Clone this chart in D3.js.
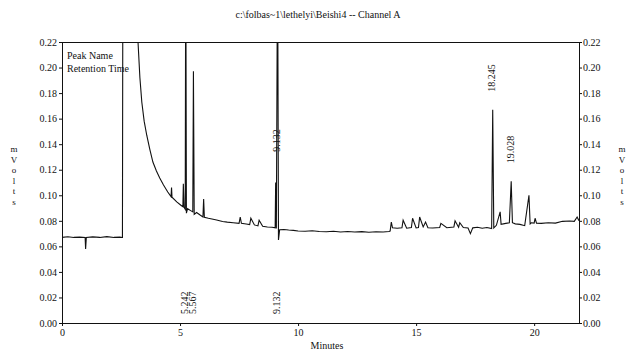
<!DOCTYPE html>
<html>
<head>
<meta charset="utf-8">
<script src="https://cdn.jsdelivr.net/npm/d3@7"></script>
<style>
  body { margin: 0; background: #fff; }
  svg { display: block; }
  text { font-family: 'Liberation Serif', 'Times New Roman', serif; fill: #111; }
</style>
</head>
<body>
<svg id="chart" width="627" height="350"></svg>
<script>
// chart text
const TITLE = 'c:\\folbas~1\\lethelyi\\Beishi4 -- Channel A';
const X_LABEL = 'Minutes';
const Y_LABEL = ['m', 'V', 'o', 'l', 't', 's'];
const LEGEND = ['Peak Name', 'Retention Time'];

// axis ticks
const xTicks = [0, 5, 10, 15, 20];
const yTicks = [0, 0.02, 0.04, 0.06, 0.08, 0.10, 0.12, 0.14, 0.16, 0.18, 0.20, 0.22];

// trace, minutes / volts (off-scale parts set above 0.22)
const traceTime = [
  0, 0.25, 0.5, 0.75, 0.98, 1.0, 1.03, 1.3, 1.6, 1.9, 2.2, 2.45, 2.56,
  2.58, 3.1, 3.22, 3.3, 3.38, 3.48, 3.59, 3.72, 3.85, 4.0, 4.14, 4.3, 4.48,
  4.62, 4.64, 4.66, 4.86, 5.05, 5.12, 5.14, 5.17, 5.22, 5.242, 5.27, 5.32,
  5.45, 5.54, 5.567, 5.6, 5.7, 5.85, 5.97, 6.0, 6.03, 6.2, 6.55, 6.8, 7.0,
  7.25, 7.5, 7.55, 7.6, 7.8, 7.95, 8.0, 8.15, 8.3, 8.35, 8.5, 8.7, 8.9,
  9.03, 9.05, 9.08, 9.132, 9.17, 9.22, 9.4, 9.6, 9.8, 10.0, 10.3, 10.6, 10.9,
  11.2, 11.5, 11.8, 12.1, 12.4, 12.7, 13.0, 13.3, 13.6, 13.85, 13.9, 13.95,
  14.0, 14.2, 14.4, 14.45, 14.6, 14.8, 14.85, 15.0, 15.1, 15.15, 15.3, 15.4,
  15.5, 15.7, 16.0, 16.05, 16.3, 16.6, 16.65, 16.8, 16.85, 17.0, 17.2, 17.3,
  17.4, 17.6, 17.8, 18.0, 18.2, 18.245, 18.29, 18.4, 18.56, 18.6, 18.8, 18.95,
  19.028, 19.08, 19.2, 19.4, 19.6, 19.78, 19.83, 19.88, 20.0, 20.04, 20.1,
  20.3, 20.6, 20.9, 21.2, 21.5, 21.7, 21.82, 21.9
];
const traceValue = [
  0.067, 0.0675, 0.067, 0.0672, 0.067, 0.058, 0.067, 0.0674, 0.067, 0.0676, 0.067, 0.0672, 0.067,
  0.30, 0.30, 0.22, 0.192, 0.173, 0.158, 0.147, 0.136, 0.126, 0.119, 0.1135, 0.108, 0.1026,
  0.099, 0.106, 0.0985, 0.0948, 0.092, 0.091, 0.109, 0.0905, 0.089, 0.30, 0.086, 0.0895,
  0.088, 0.087, 0.197, 0.085, 0.0865, 0.0845, 0.083, 0.097, 0.0828, 0.082, 0.0807, 0.0795, 0.079,
  0.0785, 0.078, 0.083, 0.078, 0.0775, 0.077, 0.082, 0.0768, 0.076, 0.0805, 0.0757, 0.0752, 0.075,
  0.0745, 0.11, 0.074, 0.30, 0.065, 0.073, 0.0732, 0.0728, 0.0725, 0.072, 0.0718, 0.0722, 0.0716,
  0.0714, 0.0718, 0.0712, 0.0716, 0.0712, 0.0715, 0.071, 0.0714, 0.0712, 0.0716, 0.072, 0.079,
  0.0745, 0.0742, 0.0745, 0.0805, 0.0742, 0.0748, 0.082, 0.0745, 0.0748, 0.083, 0.0752, 0.079,
  0.0746, 0.0744, 0.0748, 0.078, 0.0746, 0.0752, 0.080, 0.075, 0.0785, 0.0748, 0.0744, 0.070,
  0.0745, 0.075, 0.0742, 0.0748, 0.074, 0.167, 0.0745, 0.0765, 0.087, 0.0772, 0.078, 0.0785,
  0.111, 0.0785, 0.0776, 0.0772, 0.0762, 0.100, 0.0775, 0.0785, 0.0782, 0.082, 0.0782,
  0.078, 0.0785, 0.0782, 0.0796, 0.0798, 0.0796, 0.083, 0.080
];

// peak labels, top (rotated, above the peak) and bottom (retention time row)
const topPeakTimes = [9.132, 18.245, 19.028];
const topPeakValues = [0.30, 0.167, 0.111];
const topPeakLabels = ['9.132', '18.245', '19.028'];
const bottomPeakTimes = [5.242, 5.567, 9.132];
const bottomPeakLabels = ['5.242', '5.567', '9.132'];

const plotLeft = 62, plotRight = 579, plotTop = 42, plotBottom = 323;
const LABEL_GAP = 18;       // px between peak top and its label
const OFFSCALE_LABEL = 0.134; // where labels of clipped peaks sit

const svg = d3.select('#chart');

const x = d3.scaleLinear().domain([0, 21.9]).range([plotLeft, plotRight]);
const y = d3.scaleLinear().domain([0, 0.22]).range([plotBottom, plotTop]);

// clip the trace to the plot frame
svg.append('defs').append('clipPath').attr('id', 'plot')
  .append('rect')
  .attr('x', plotLeft).attr('y', plotTop)
  .attr('width', plotRight - plotLeft).attr('height', plotBottom - plotTop);

// title
svg.append('text')
  .attr('x', 318).attr('y', 18)
  .attr('text-anchor', 'middle')
  .style('font-size', '10px')
  .text(TITLE);

// axes
const fmt = d3.format('.2f');
const gLeft = svg.append('g')
  .attr('transform', `translate(${plotLeft},0)`)
  .call(d3.axisLeft(y).tickValues(yTicks).tickFormat(fmt).tickSize(3).tickSizeOuter(0).tickPadding(2));
const gRight = svg.append('g')
  .attr('transform', `translate(${plotRight},0)`)
  .call(d3.axisRight(y).tickValues(yTicks).tickFormat(fmt).tickSize(3).tickSizeOuter(0).tickPadding(1));
const gBottom = svg.append('g')
  .attr('transform', `translate(0,${plotBottom})`)
  .call(d3.axisBottom(x).tickValues(xTicks).tickFormat(d3.format('d')).tickSize(3).tickSizeOuter(0).tickPadding(3));

[gLeft, gRight, gBottom].forEach(g => {
  g.attr('font-family', null);
  g.selectAll('path, line').attr('stroke', '#111').attr('stroke-width', 1);
  g.selectAll('text')
    .style('font-size', '10px')
    .attr('fill', '#111');
});

// top frame line
svg.append('line')
  .attr('x1', plotLeft).attr('x2', plotRight)
  .attr('y1', plotTop + 0.5).attr('y2', plotTop + 0.5)
  .attr('stroke', '#111');

// axis titles
svg.append('text')
  .attr('x', 327).attr('y', 349)
  .attr('text-anchor', 'middle')
  .style('font-size', '10px')
  .text(X_LABEL);

Y_LABEL.forEach((ch, i) => {
  svg.append('text')
    .attr('x', 14).attr('y', 152 + i * 10.5)
    .attr('text-anchor', 'middle')
    .style('font-size', '9px')
    .text(ch);
  svg.append('text')
    .attr('x', 622).attr('y', 152 + i * 10.5)
    .attr('text-anchor', 'middle')
    .style('font-size', '9px')
    .text(ch);
});

// legend text
LEGEND.forEach((t, i) => {
  svg.append('text')
    .attr('x', 67).attr('y', 59 + i * 13)
    .style('font-size', '10px')
    .text(t);
});

// trace
const points = traceTime.map((t, i) => [t, traceValue[i]]);
svg.append('path')
  .datum(points)
  .attr('clip-path', 'url(#plot)')
  .attr('fill', 'none')
  .attr('stroke', '#111')
  .attr('stroke-width', 1.1)
  .attr('d', d3.line().x(d => x(d[0])).y(d => y(d[1])));

// peak labels above peaks (clipped peaks get their label inside the plot)
topPeakTimes.forEach((t, i) => {
  const v = topPeakValues[i];
  const py = v > 0.22 ? y(OFFSCALE_LABEL) : y(v) - LABEL_GAP;
  svg.append('text')
    .attr('transform', `translate(${x(t) - 1},${py}) rotate(-90)`)
    .attr('dy', '0.35em')
    .style('font-size', '10px')
    .text(topPeakLabels[i]);
});

// retention times along the bottom
bottomPeakTimes.forEach((t, i) => {
  svg.append('text')
    .attr('transform', `translate(${x(t) - 1},${plotBottom - 9}) rotate(-90)`)
    .attr('dy', '0.35em')
    .style('font-size', '10px')
    .text(bottomPeakLabels[i]);
});
</script>
</body>
</html>
